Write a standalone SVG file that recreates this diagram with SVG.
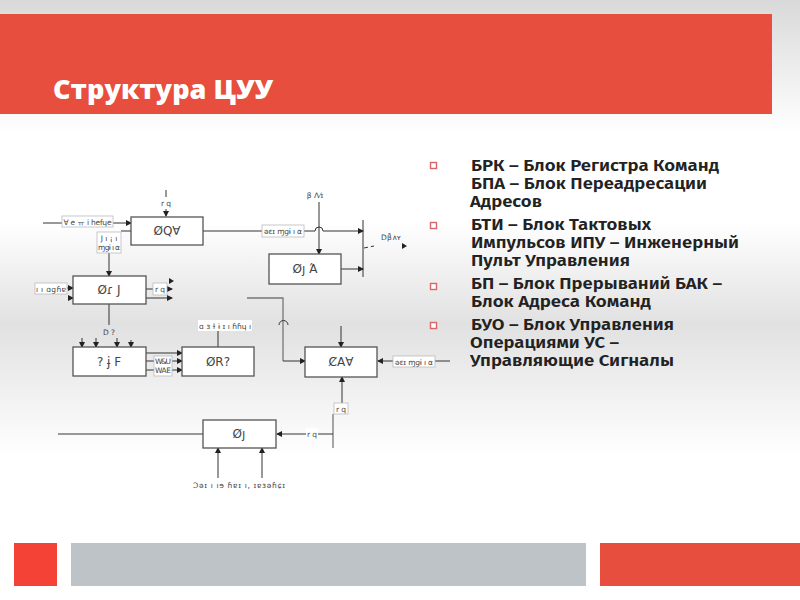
<svg xmlns="http://www.w3.org/2000/svg" width="800" height="600" viewBox="0 0 800 600">
<style>
.box{fill:#fff;stroke:#555;stroke-width:1.3}
.lab{fill:#fff;stroke:#bbb;stroke-width:.8}
.ln{fill:none;stroke:#333;stroke-width:1}
.gr{fill:none;stroke:#777;stroke-width:1.3}
.t{font-family:"DejaVu Sans",sans-serif;font-size:7.5px;fill:#444;text-anchor:middle}
.n{font-family:"DejaVu Sans",sans-serif;font-size:12px;fill:#444;text-anchor:middle}
.b{font-family:"Fira Sans","Noto Sans",sans-serif;font-weight:600;font-size:16px;fill:#222}
.bl{fill:#fff;stroke:#d9666a;stroke-width:1.4}
</style>
<defs>
<linearGradient id="bg" x1="0" y1="0" x2="0" y2="1">
<stop offset="0" stop-color="#d9d9d9"/><stop offset=".22" stop-color="#fff"/><stop offset=".37" stop-color="#fff"/><stop offset=".54" stop-color="#e1e1e1"/><stop offset=".76" stop-color="#fff"/><stop offset="1" stop-color="#fff"/>
</linearGradient>
<marker id="a" markerWidth="6" markerHeight="6" refX="5" refY="3" orient="auto" markerUnits="userSpaceOnUse"><path d="M0 0L6 3L0 6Z" fill="#222"/></marker>
</defs>
<rect width="800" height="600" fill="url(#bg)"/>
<rect x="0" y="14" width="772" height="100" fill="#e84e3d"/>
<text x="53" y="99" font-family="Open Sans,sans-serif" font-weight="800" font-size="27" fill="#fff" textLength="220" lengthAdjust="spacingAndGlyphs">Структура ЦУУ</text>
<rect x="14" y="543" width="43" height="43" fill="#f44336"/>
<rect x="71" y="543" width="515" height="43" fill="#bdc3c7"/>
<rect x="600" y="543" width="200" height="43" fill="#e84e3d"/>
<g id="bullets">
<rect class="bl" x="430.500" y="162.500" width="6" height="6"/>
<rect class="bl" x="430.500" y="222.500" width="6" height="6"/>
<rect class="bl" x="430.500" y="283.500" width="6" height="6"/>
<rect class="bl" x="430.500" y="322.500" width="6" height="6"/>
</g>
<g id="legend" class="b">
<text x="471" y="171" textLength="248" lengthAdjust="spacingAndGlyphs">БРК – Блок Регистра Команд</text>
<text x="471" y="189" textLength="236" lengthAdjust="spacingAndGlyphs">БПА – Блок Переадресации</text>
<text x="470" y="207" textLength="72" lengthAdjust="spacingAndGlyphs">Адресов</text>
<text x="471" y="230" textLength="180" lengthAdjust="spacingAndGlyphs">БТИ – Блок Тактовых</text>
<text x="471" y="248" textLength="268" lengthAdjust="spacingAndGlyphs">Импульсов ИПУ – Инженерный</text>
<text x="471" y="266" textLength="159" lengthAdjust="spacingAndGlyphs">Пульт Управления</text>
<text x="471" y="289" textLength="251" lengthAdjust="spacingAndGlyphs">БП – Блок Прерываний БАК –</text>
<text x="471" y="307" textLength="180" lengthAdjust="spacingAndGlyphs">Блок Адреса Команд</text>
<text x="471" y="330" textLength="203" lengthAdjust="spacingAndGlyphs">БУО – Блок Управления</text>
<text x="470" y="348" textLength="149" lengthAdjust="spacingAndGlyphs">Операциями УС –</text>
<text x="470" y="366" textLength="204" lengthAdjust="spacingAndGlyphs">Управляющие Сигналы</text>
</g>
<g id="connectors">
<path class="ln" d="M166 190V197"/>
<path class="ln" marker-end="url(#a)" d="M166 209V216"/>
<path class="ln" marker-end="url(#a)" d="M43 223H131"/>
<path class="ln" d="M121 231H131"/>
<path class="ln" marker-end="url(#a)" d="M109 253V276"/>
<path class="ln" marker-end="url(#a)" d="M203 231H315a4 4 0 0 1 8 0H363"/>
<path class="ln" stroke-width="1.300" d="M363 220V277"/>
<path class="ln" marker-end="url(#a)" d="M319 202V254"/>
<path class="ln" marker-end="url(#a)" d="M341 269H363"/>
<path class="ln" stroke-dasharray="4 3" d="M364 248L374 246"/>
<path d="M402 243L407 246L402 249Z" fill="#222"/>
<path class="ln" marker-end="url(#a)" d="M35 288H73"/>
<path class="ln" marker-end="url(#a)" d="M68 298H73"/>
<path class="ln" marker-end="url(#a)" d="M146 289H172"/>
<path d="M169 278L174 281L169 284Z" fill="#222"/>
<path class="ln" marker-end="url(#a)" d="M146 298H172"/>
<path class="ln" d="M109 304V325"/>
<path class="ln" marker-end="url(#a)" d="M82 338V347"/>
<path class="ln" marker-end="url(#a)" d="M96 338V347"/>
<path class="ln" marker-end="url(#a)" d="M117 338V347"/>
<path class="ln" marker-end="url(#a)" d="M131 340V347"/>
<path class="ln" marker-end="url(#a)" d="M146 353H182"/>
<path class="ln" marker-end="url(#a)" d="M146 361H182"/>
<path class="ln" marker-end="url(#a)" d="M146 370H182"/>
<path class="ln" marker-end="url(#a)" d="M218 347V326"/>
<path class="gr" d="M247 298H283V361"/>
<path class="ln" marker-end="url(#a)" d="M283 361H305"/>
<path class="ln" d="M279 325a4.500 4.500 0 0 1 9 0"/>
<path class="ln" marker-end="url(#a)" d="M341 326V347"/>
<path class="ln" marker-end="url(#a)" d="M450 361H378"/>
<path class="ln" marker-end="url(#a)" d="M342 405V377"/>
<path class="gr" d="M333 414V448"/>
<path class="ln" marker-end="url(#a)" d="M333 434H277"/>
<path class="gr" d="M58 434H203"/>
<path class="ln" marker-end="url(#a)" d="M218 478V448"/>
<path class="ln" marker-end="url(#a)" d="M262 478V448"/>
</g>
<g id="labels">
<rect class="lab" x="62" y="216" width="51" height="11"/><text class="t" x="87.500" y="224.500" textLength="48">∀ e ㅠ i hefɥe</text>
<rect class="lab" x="97" y="232" width="24" height="21"/><text class="t" x="109" y="241">J ı ¡ ı</text><text class="t" x="109" y="250" textLength="22">ɱɡɨ ı α</text>
<text class="t" x="166" y="206">r q</text>
<rect class="lab" x="262" y="225" width="42" height="12"/><text class="t" x="283" y="234" textLength="38">əɛɪ  ɱɡɨ ı α</text>
<text class="t" x="315" y="198">β Λ⁄ɪ</text>
<text class="t" x="391" y="240" textLength="20">D β̄ ∧ʏ</text>
<rect class="lab" x="35" y="283" width="32" height="11"/><text class="t" x="51" y="291.500" textLength="30">ı ı ɑɡɦɐ</text>
<rect class="lab" x="153" y="283" width="14" height="12"/><text class="t" x="160" y="292">r q</text>
<text class="t" x="109" y="335">D ?</text>
<rect class="lab" x="154" y="356" width="18" height="20"/><text class="t" x="163" y="364" textLength="16">W&amp;U</text><text class="t" x="163" y="373" textLength="16">WAE</text>
<rect x="198" y="320" width="54" height="11" fill="#fff"/><text class="t" x="225" y="328.500" textLength="52">ɑ ɜ ɫ ɨ ɪ ı ɦɦɥ ı</text>
<rect class="lab" x="393" y="356" width="42" height="11"/><text class="t" x="414" y="364.500" textLength="38">əɛɪ  ɱɡɨ ı α</text>
<rect class="lab" x="334" y="403" width="14" height="11"/><text class="t" x="341" y="411.500">r q</text>
<rect x="306" y="428" width="12" height="11" fill="#fff"/><text class="t" x="312" y="437">r q</text>
<text class="t" x="239" y="488" textLength="92">Ɔəɪ ı ıɘ  ɦɐɪ ı, ɪɐɜəɦɕɪ</text>
</g>
<g id="node-brk"><rect class="box" x="131" y="217" width="72" height="28"/><text class="n" x="167" y="235">ØQ∀</text></g>
<g id="node-bpa"><rect class="box" x="73" y="276" width="73" height="28"/><text class="n" x="109" y="294">Øɾ J</text></g>
<g id="node-pa"><rect class="box" x="269" y="254" width="72" height="30"/><text class="n" x="305" y="273">Øȷ  Ά</text></g>
<g id="node-uo"><rect class="box" x="73" y="347" width="73" height="29"/><text class="n" x="109" y="366">? ɉ F</text></g>
<g id="node-r"><rect class="box" x="182" y="347" width="72" height="29"/><text class="n" x="218" y="366">ØR?</text></g>
<g id="node-cau"><rect class="box" x="305" y="347" width="72" height="30"/><text class="n" x="341" y="366">ȻA∀</text></g>
<g id="node-j"><rect class="box" x="203" y="420" width="73" height="28"/><text class="n" x="239" y="438">Øȷ</text></g>
</svg>
